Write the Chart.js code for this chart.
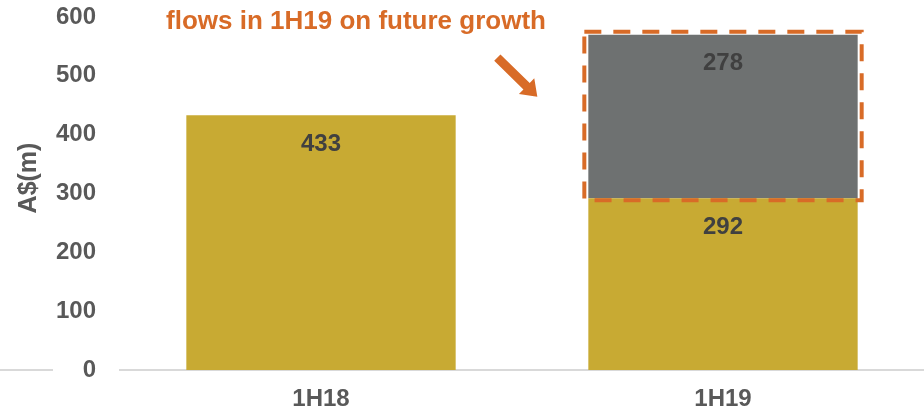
<!DOCTYPE html>
<html>
<head>
<meta charset="utf-8">
<script src="https://cdn.jsdelivr.net/npm/chart.js@4/dist/chart.umd.min.js"></script>
<style>
    html, body { margin: 0; padding: 0; background: #fff; }
    #wrap { width: 924px; height: 411px; }
</style>
</head>
<body>
<div id="wrap"><canvas id="capexChart"></canvas></div>
<script>
// data - START
const periods = ['1H18', '1H19'];
const baseValues = [433, 292];
const growthValues = [null, 278];
const yTicks = [0, 100, 200, 300, 400, 500, 600];
const axisTitle = 'A$(m)';
const calloutText = 'flows in 1H19 on future growth';
// data - END

const GOLD = '#C8AA33';
const GREY = '#6E7171';
const ORANGE = '#D86B27';
const TEXT = '#595959';
const FONT = '"Liberation Sans", Arial, sans-serif';

// value labels drawn inside the top of each bar segment
let valueLabels = {
    id: 'valueLabels',
    afterDatasetsDraw(chart) {
        let ctx = chart.ctx;
        ctx.save();
        ctx.font = 'bold 24px ' + FONT;
        ctx.fillStyle = '#404040';
        ctx.textAlign = 'center';
        ctx.textBaseline = 'middle';
        chart.data.datasets.forEach((ds, i) => {
            chart.getDatasetMeta(i).data.forEach((bar, j) => {
                let v = ds.data[j];
                if (v == null) return;
                ctx.fillText(String(v), bar.x, bar.y + 29);
            });
        });
        ctx.restore();
    }
};

// dashed box around growth segment, arrow, callout text, axis title
let callout = {
    id: 'callout',
    afterDraw(chart) {
        let ctx = chart.ctx;
        let area = chart.chartArea;
        let seg = chart.getDatasetMeta(1).data[1];
        ctx.save();

        // small piece of baseline left of the axis labels
        ctx.strokeStyle = '#D9D9D9';
        ctx.lineWidth = 2;
        ctx.beginPath();
        ctx.moveTo(0, area.bottom);
        ctx.lineTo(53, area.bottom);
        ctx.stroke();

        let left = seg.x - seg.width / 2 - 4;
        let right = seg.x + seg.width / 2 + 4;
        let top = seg.y - 3;
        let bottom = seg.base + 2;
        ctx.strokeStyle = ORANGE;
        ctx.lineWidth = 4;
        ctx.setLineDash([17, 12]);
        ctx.strokeRect(left, top, right - left, bottom - top);
        ctx.setLineDash([]);

        // arrow
        let x0 = left - 87, y0 = top + 26;
        let x1 = left - 47, y1 = top + 65;
        let ang = Math.atan2(y1 - y0, x1 - x0);
        let len = Math.hypot(x1 - x0, y1 - y0);
        ctx.translate(x0, y0);
        ctx.rotate(ang);
        ctx.fillStyle = ORANGE;
        ctx.beginPath();
        ctx.moveTo(0, -4.5);
        ctx.lineTo(len - 15, -4.5);
        ctx.lineTo(len - 15, -11);
        ctx.lineTo(len, 0);
        ctx.lineTo(len - 15, 11);
        ctx.lineTo(len - 15, 4.5);
        ctx.lineTo(0, 4.5);
        ctx.closePath();
        ctx.fill();
        ctx.setTransform(1, 0, 0, 1, 0, 0);

        ctx.font = 'bold 26px ' + FONT;
        ctx.fillStyle = ORANGE;
        ctx.textAlign = 'center';
        ctx.textBaseline = 'middle';
        ctx.fillText(calloutText, 356, 22);

        // y axis title
        ctx.translate(29, 178);
        ctx.rotate(-Math.PI / 2);
        ctx.font = 'bold 25px ' + FONT;
        ctx.fillStyle = TEXT;
        ctx.fillText(axisTitle, 0, 0);
        ctx.restore();
    }
};

let ctx = document.getElementById('capexChart');
let chart = new Chart(ctx, {
    type: 'bar',
    data: {
        labels: periods,
        datasets: [{
            label: 'Base',
            data: baseValues,
            backgroundColor: GOLD,
            barPercentage: 0.67,
            categoryPercentage: 1
        }, {
            label: 'Growth',
            data: growthValues,
            backgroundColor: GREY,
            barPercentage: 0.67,
            categoryPercentage: 1
        }]
    },
    options: {
        responsive: true,
        maintainAspectRatio: false,
        animation: false,
        layout: {
            padding: { top: 17, right: 0, bottom: 0, left: 0 }
        },
        plugins: {
            legend: { display: false },
            tooltip: { enabled: false }
        },
        scales: {
            x: {
                stacked: true,
                grid: { display: false, drawTicks: false },
                border: { display: true, color: '#D9D9D9', width: 2 },
                ticks: {
                    color: TEXT,
                    padding: 15,
                    font: { family: FONT, size: 24, weight: 'bold' }
                },
                afterFit(scale) {
                    scale.height = 41;
                    scale.paddingLeft = 0;
                    scale.paddingRight = 0;
                }
            },
            y: {
                stacked: true,
                min: 0,
                max: 600,
                afterBuildTicks(scale) {
                    scale.ticks = yTicks.map((v) => ({ value: v }));
                },
                grid: { display: false, drawTicks: false },
                border: { display: false },
                ticks: {
                    color: TEXT,
                    padding: 24,
                    font: { family: FONT, size: 24, weight: 'bold' }
                },
                afterFit(scale) {
                    scale.width = 120;
                    scale.paddingTop = 0;
                    scale.paddingBottom = 0;
                }
            }
        }
    },
    plugins: [valueLabels, callout]
});
</script>
</body>
</html>
